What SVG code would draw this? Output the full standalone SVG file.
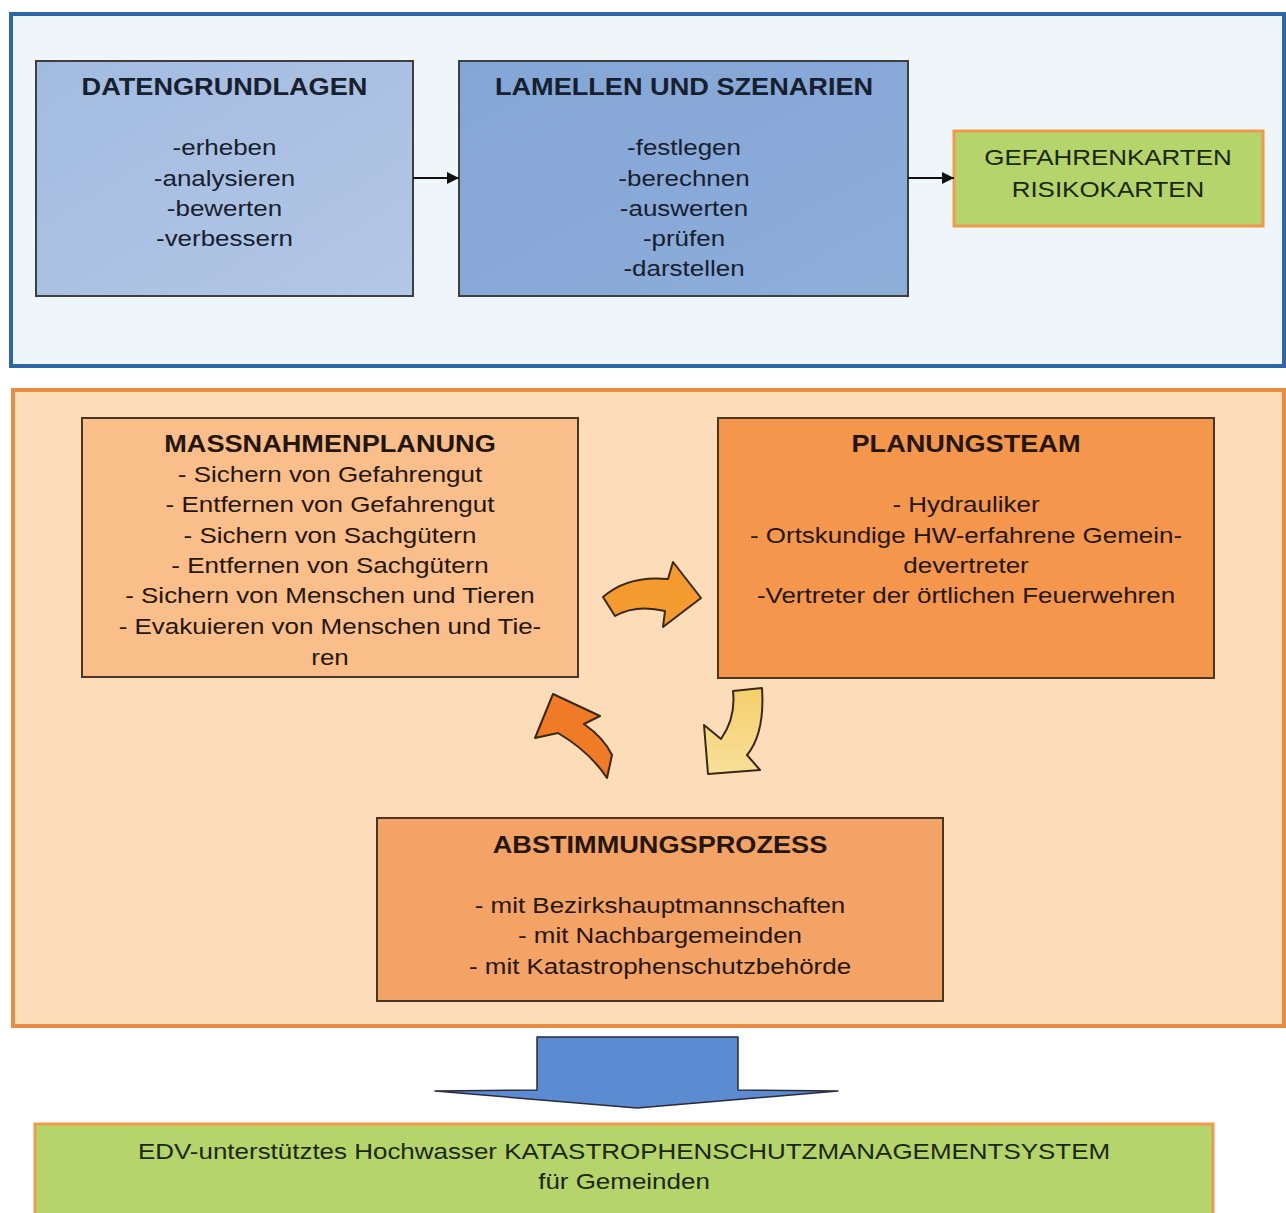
<svg xmlns="http://www.w3.org/2000/svg" width="1286" height="1213" viewBox="0 0 1286 1213">
<defs>
<style>
text{font-family:"Liberation Sans",Arial,sans-serif;text-anchor:middle}
.t{font-size:23px;font-weight:bold}
.i{font-size:22px}
.blue text{fill:#16202e}
.org text{fill:#24160a}
.grn text{fill:#1a280c}
.box{stroke:#3f3f3f;stroke-width:2}
.obox{stroke:#4a3626;stroke-width:2}
.curv{stroke:#3a2814;stroke-width:2;stroke-linejoin:round}
</style>
<linearGradient id="g1" x1="0" y1="0" x2="1" y2="1"><stop offset="0" stop-color="#a2bbe0"/><stop offset="1" stop-color="#b3c7e6"/></linearGradient>
<linearGradient id="g2" x1="0" y1="0" x2="1" y2="1"><stop offset="0" stop-color="#84a6d6"/><stop offset="1" stop-color="#8dadd9"/></linearGradient>
<linearGradient id="gy" x1="0" y1="0" x2="0" y2="1"><stop offset="0" stop-color="#f5cf6c"/><stop offset="1" stop-color="#f8e09a"/></linearGradient>
<marker id="ah" viewBox="0 0 10 10" refX="10" refY="5" markerWidth="12" markerHeight="12" markerUnits="userSpaceOnUse" orient="auto"><path d="M0,0 L10,5 L0,10 Z" fill="#111"/></marker>
</defs>
<rect width="1286" height="1213" fill="#ffffff"/>
<g id="panel-top"><rect x="11" y="14" width="1273" height="352" fill="#eef6f9" stroke="#2e66a8" stroke-width="4"/></g>
<g id="panel-mid"><rect x="13" y="390" width="1271" height="636" fill="#fcdcb9" stroke="#ea8b42" stroke-width="4"/></g>

<g id="datengrundlagen" class="blue">
<rect class="box" x="36" y="61" width="377" height="235" fill="url(#g1)"/>
<g transform="translate(224.5,0) scale(1.18,1)">
<text class="t" x="0" y="95">DATENGRUNDLAGEN</text>
<text class="i" x="0" y="155">-erheben</text>
<text class="i" x="0" y="186">-analysieren</text>
<text class="i" x="0" y="216">-bewerten</text>
<text class="i" x="0" y="246">-verbessern</text>
</g></g>

<g id="lamellen" class="blue">
<rect class="box" x="459" y="61" width="449" height="235" fill="url(#g2)"/>
<g transform="translate(684,0) scale(1.18,1)">
<text class="t" x="0" y="95">LAMELLEN UND SZENARIEN</text>
<text class="i" x="0" y="155">-festlegen</text>
<text class="i" x="0" y="186">-berechnen</text>
<text class="i" x="0" y="216">-auswerten</text>
<text class="i" x="0" y="246">-prüfen</text>
<text class="i" x="0" y="276">-darstellen</text>
</g></g>

<g id="gefahrenkarten" class="grn">
<rect x="954" y="131" width="309" height="95" fill="#b5d46c" stroke="#f09a4c" stroke-width="3"/>
<g transform="translate(1108,0) scale(1.18,1)">
<text class="i" x="0" y="165">GEFAHRENKARTEN</text>
<text class="i" x="0" y="197">RISIKOKARTEN</text>
</g></g>

<g id="massnahmenplanung" class="org">
<rect class="obox" x="82" y="418" width="496" height="259" fill="#f9be89"/>
<g transform="translate(330,0) scale(1.18,1)">
<text class="t" x="0" y="452">MASSNAHMENPLANUNG</text>
<text class="i" x="0" y="482">- Sichern von Gefahrengut</text>
<text class="i" x="0" y="512">- Entfernen von Gefahrengut</text>
<text class="i" x="0" y="543">- Sichern von Sachgütern</text>
<text class="i" x="0" y="573">- Entfernen von Sachgütern</text>
<text class="i" x="0" y="603">- Sichern von Menschen und Tieren</text>
<text class="i" x="0" y="634">- Evakuieren von Menschen und Tie-</text>
<text class="i" x="0" y="665">ren</text>
</g></g>

<g id="planungsteam" class="org">
<rect class="obox" x="718" y="418" width="496" height="260" fill="#f5964d"/>
<g transform="translate(966,0) scale(1.18,1)">
<text class="t" x="0" y="452">PLANUNGSTEAM</text>
<text class="i" x="0" y="512">- Hydrauliker</text>
<text class="i" x="0" y="543">- Ortskundige HW-erfahrene Gemein-</text>
<text class="i" x="0" y="573">devertreter</text>
<text class="i" x="0" y="603">-Vertreter der örtlichen Feuerwehren</text>
</g></g>

<g id="abstimmungsprozess" class="org">
<rect class="obox" x="377" y="818" width="566" height="183" fill="#f4a366"/>
<g transform="translate(660,0) scale(1.18,1)">
<text class="t" x="0" y="853">ABSTIMMUNGSPROZESS</text>
<text class="i" x="0" y="913">- mit Bezirkshauptmannschaften</text>
<text class="i" x="0" y="943">- mit Nachbargemeinden</text>
<text class="i" x="0" y="974">- mit Katastrophenschutzbehörde</text>
</g></g>

<g id="system" class="grn">
<rect x="35" y="1124" width="1178" height="100" fill="#b5d46c" stroke="#f09a4c" stroke-width="3"/>
<g transform="translate(624,0) scale(1.18,1)">
<text class="i" x="0" y="1159">EDV-unterstütztes Hochwasser KATASTROPHENSCHUTZMANAGEMENTSYSTEM</text>
<text class="i" x="0" y="1189">für Gemeinden</text>
</g></g>

<g id="connectors">
<line x1="413" y1="178" x2="459" y2="178" stroke="#111" stroke-width="2" marker-end="url(#ah)"/>
<line x1="908" y1="178" x2="954" y2="178" stroke="#111" stroke-width="2" marker-end="url(#ah)"/>
<path class="curv" fill="#f39b2e" d="M603,597 Q628,575 668,579 L673,562 L701,598 L663,627 L665,611 Q636,604 615,616 Z"/>
<path class="curv" fill="url(#gy)" d="M733,691 L762,688 Q765,733 747,755 L760,770 L708,774 L704,725 L721,739 Q736,718 733,691 Z"/>
<path class="curv" fill="#f07b26" d="M553,694 L600,716 L584,724 Q604,738 612,755 L607,778 Q590,752 558,733 L535,738 Z"/>
<path fill="#5b8bd0" stroke="#2a2a3a" stroke-width="1.5" stroke-linejoin="round" d="M537,1037 H738 V1090 L838,1091 L637,1108 L435,1091 L537,1090 Z"/>
</g>
</svg>
